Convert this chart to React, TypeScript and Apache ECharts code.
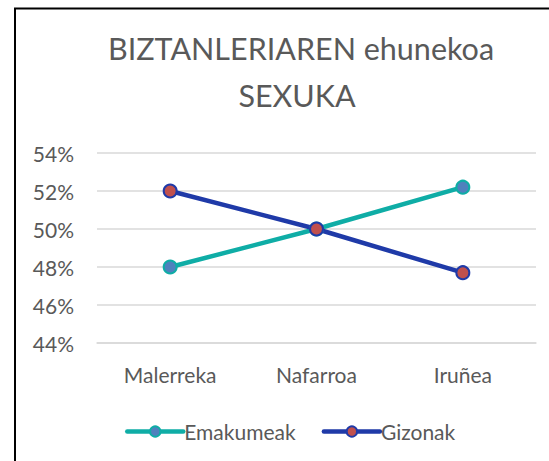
import React, { useEffect, useRef } from "react";
import * as echarts from "echarts";

const categories = ["Malerreka", "Nafarroa", "Iruñea"];
const emakumeak = [48.0, 50.0, 52.2];
const gizonak = [52.0, 50.0, 47.7];
const yMin = 44;
const yMax = 54;
const yStep = 2;

export default function App() {
  const ref = useRef<HTMLDivElement>(null);
  useEffect(() => {
    document.body.style.margin = "0";
    if (!ref.current) return;
    const chart = echarts.init(ref.current, undefined, { renderer: "svg" });
    const font = "Lato, 'Open Sans', sans-serif";
    chart.setOption({
      animation: false,
      backgroundColor: "#ffffff",
      textStyle: { fontFamily: font },
      graphic: [
        {
          type: "rect",
          shape: { x: 15, y: 8.5, width: 700, height: 600 },
          style: { fill: "none", stroke: "#000000", lineWidth: 2 },
          silent: true,
        },
        {
          type: "text",
          x: 301,
          y: 48,
          style: {
            text: "BIZTANLERIAREN ehunekoa",
            fill: "#595959",
            font: `30.5px ${font}`,
            align: "center",
            verticalAlign: "middle",
          },
        },
        {
          type: "text",
          x: 297,
          y: 95,
          style: {
            text: "SEXUKA",
            fill: "#595959",
            font: `30.5px ${font}`,
            align: "center",
            verticalAlign: "middle",
          },
        },
      ],
      legend: {
        left: 120,
        top: 416,
        itemWidth: 56,
        itemHeight: 13,
        itemGap: 26,
        lineStyle: { width: 4.5, cap: "round" },
        textStyle: { color: "#595959", fontSize: 21, fontFamily: font, padding: [0, 0, 0, -4] },
        data: ["Emakumeak", "Gizonak"],
      },
      grid: { left: 97, right: 13, top: 153, bottom: 118 },
      xAxis: {
        type: "category",
        data: categories,
        axisLine: { lineStyle: { color: "#d9d9d9", width: 1.5 } },
        axisTick: { show: false },
        axisLabel: { color: "#595959", fontSize: 21, margin: 21, fontFamily: font },
      },
      yAxis: {
        type: "value",
        min: yMin,
        max: yMax,
        interval: yStep,
        axisLine: { show: false },
        axisTick: { show: false },
        splitLine: { lineStyle: { color: "#d9d9d9", width: 1.5 } },
        axisLabel: { color: "#595959", fontSize: 21, margin: 23, formatter: "{value}%", fontFamily: font },
      },
      series: [
        {
          name: "Emakumeak",
          type: "line",
          data: emakumeak,
          symbol: "circle",
          symbolSize: 13,
          lineStyle: { color: "#0FADA6", width: 4.5 },
          itemStyle: { color: "#4F81BD", borderColor: "#0FADA6", borderWidth: 2 },
        },
        {
          name: "Gizonak",
          type: "line",
          data: gizonak,
          symbol: "circle",
          symbolSize: 13,
          lineStyle: { color: "#1F3AA8", width: 4.5 },
          itemStyle: { color: "#C0504D", borderColor: "#1F3AA8", borderWidth: 2 },
        },
      ],
    });
    return () => chart.dispose();
  }, []);
  return <div ref={ref} style={{ width: 549, height: 461 }} />;
}
